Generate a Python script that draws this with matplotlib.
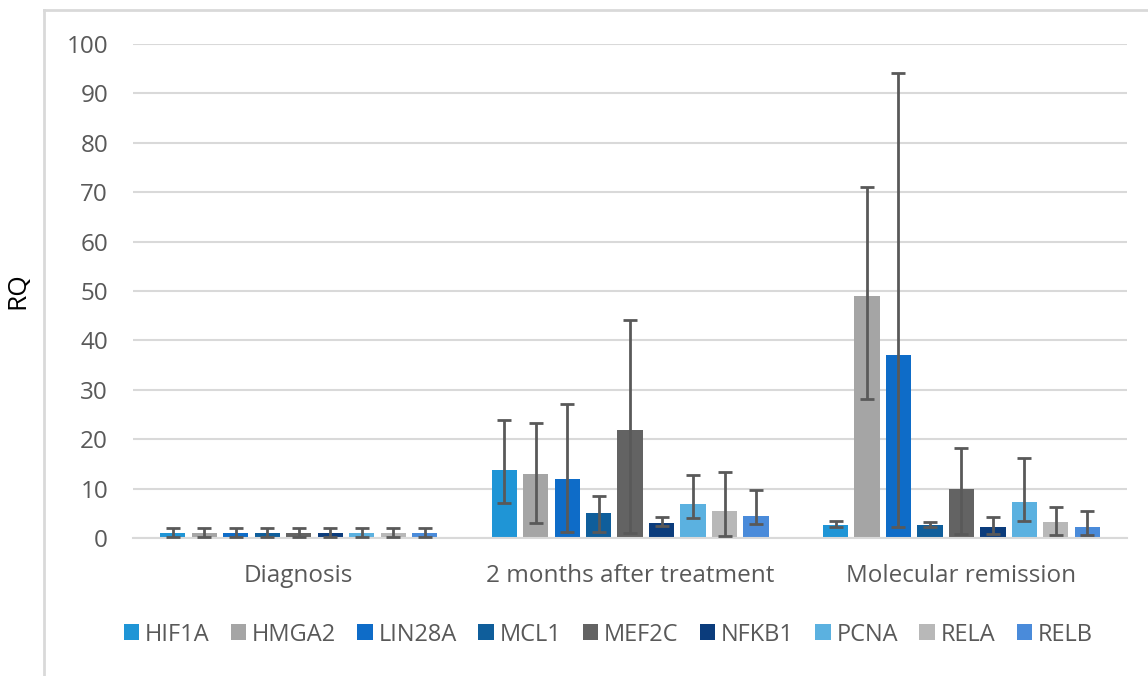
import numpy as np
import matplotlib
matplotlib.use('Agg')
import matplotlib.pyplot as plt
from matplotlib.lines import Line2D

plt.rcParams['font.family'] = ['Open Sans', 'DejaVu Sans']

groups = ['Diagnosis', '2 months after treatment', 'Molecular remission']
genes = ['HIF1A', 'HMGA2', 'LIN28A', 'MCL1', 'MEF2C', 'NFKB1', 'PCNA', 'RELA', 'RELB']
colors = ['#1f95d6', '#a5a5a5', '#0e6cc8', '#0f5e9b', '#636363', '#0b3c7c',
          '#5bb1e0', '#b8b8b8', '#4a8bda']

# mean RQ per gene, one row per group
rq = np.array([
    [1, 1, 1, 1, 1, 1, 1, 1, 1],
    [13.8, 12.9, 12.0, 5.1, 21.9, 3.0, 6.9, 5.5, 4.5],
    [2.7, 49.0, 37.0, 2.7, 9.9, 2.3, 7.2, 3.2, 2.3],
])
err_hi = np.array([
    [2.0, 2.0, 2.0, 2.0, 2.0, 2.0, 2.0, 2.0, 2.0],
    [23.9, 23.2, 27.1, 8.5, 44.1, 4.3, 12.8, 13.4, 9.7],
    [3.4, 71.0, 94.1, 3.2, 18.2, 4.3, 16.3, 6.3, 5.5],
])
err_lo = np.array([
    [0.2, 0.2, 0.2, 0.2, 0.2, 0.2, 0.2, 0.2, 0.2],
    [7.0, 3.1, 1.3, 1.3, 1.0, 2.5, 4.0, 0.5, 2.8],
    [2.3, 28.1, 2.2, 2.3, 0.9, 0.9, 3.4, 0.6, 0.6],
])

fig = plt.figure(figsize=(11.48, 6.76), dpi=100)
ax = fig.add_axes([0.1159, 0.2041, 0.8659, 0.7308])

x = np.arange(len(groups))
pitch = 0.095
width = 0.076
for i, g in enumerate(genes):
    xs = x + (i - 4) * pitch
    lo = rq[:, i] - err_lo[:, i]
    hi = err_hi[:, i] - rq[:, i]
    ax.bar(xs, rq[:, i], width, color=colors[i], label=g, zorder=2)
    ax.errorbar(xs, rq[:, i], yerr=[lo, hi], fmt='none', ecolor='#595959',
                elinewidth=2, capsize=5, capthick=2, zorder=3)

ax.set_xlim(-0.5, 2.5)
ax.set_ylim(0, 100)
ax.set_yticks(np.arange(0, 101, 10))
ax.set_xticks(x)
ax.set_xticklabels(groups)
ax.yaxis.grid(True, color='#d9d9d9', linewidth=1.5, zorder=0)
ax.set_axisbelow(True)
for s in ['top', 'right', 'left']:
    ax.spines[s].set_visible(False)
ax.spines['bottom'].set_color('#d9d9d9')
ax.spines['bottom'].set_linewidth(1.5)
ax.tick_params(axis='both', length=0, labelsize=17.5, labelcolor='#595959')
ax.tick_params(axis='y', pad=18)
ax.tick_params(axis='x', pad=19)
ax.set_ylabel('RQ', fontsize=19, color='black')
ax.yaxis.set_label_coords(-0.1035, 0.5)

ax.legend(loc='upper center', bbox_to_anchor=(0.478, -0.128), ncol=9, frameon=False,
          fontsize=17, handlelength=0.65, handleheight=0.65, handletextpad=0.25,
          columnspacing=0.9, labelcolor='#595959')

# chart frame (left and top edges only)
W, H = 1148, 676
fig.add_artist(Line2D([44 / W, 44 / W], [0, 1 - 10 / H], color='#d9d9d9', lw=2,
                      transform=fig.transFigure))
fig.add_artist(Line2D([44 / W, 1], [1 - 10 / H, 1 - 10 / H], color='#d9d9d9', lw=2,
                      transform=fig.transFigure))

fig.savefig('out.png', dpi=100)
